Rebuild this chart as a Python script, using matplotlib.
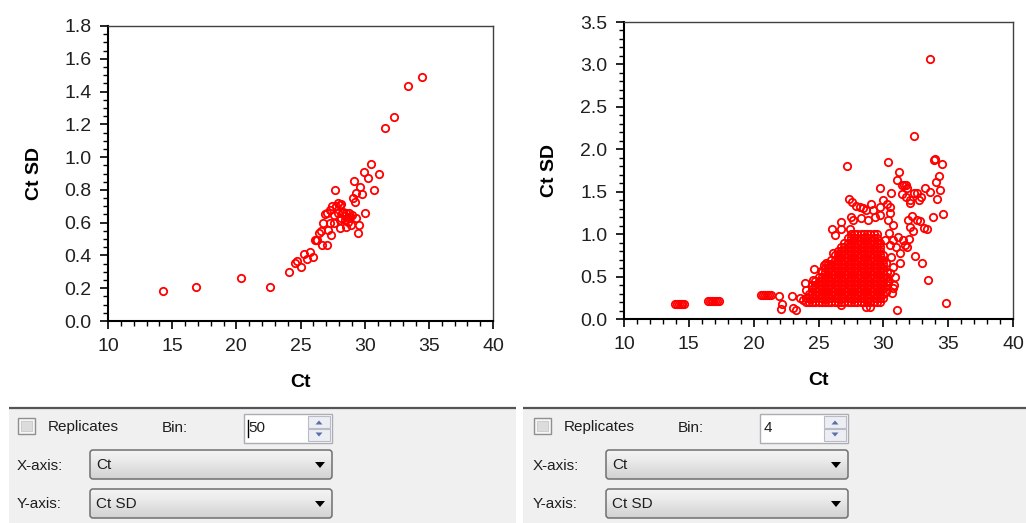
import numpy as np
import matplotlib
matplotlib.use('Agg')
import matplotlib.pyplot as plt
from matplotlib.patches import Rectangle, FancyBboxPatch, Polygon
from matplotlib.colors import LinearSegmentedColormap
from matplotlib.ticker import MultipleLocator

plt.rcParams['font.family'] = ['Liberation Sans', 'DejaVu Sans']

W, H = 1026, 523

# --- left chart (Bin 50) ---
ct_left = [14.26, 16.83, 20.35, 22.63, 24.10, 24.55, 24.73, 25.07, 25.30, 25.54,
           25.77, 25.98, 26.10, 26.22, 26.29, 26.44, 26.60, 26.70, 26.75, 26.89,
           27.07, 27.07, 27.14, 27.28, 27.40, 27.30, 27.45, 27.59, 27.58, 27.72,
           27.80, 27.92, 27.92, 28.05, 28.05, 28.05, 28.18, 28.18, 28.26, 28.31,
           28.44, 28.44, 28.57, 28.57, 28.70, 28.70, 28.78, 28.83, 28.96, 29.04,
           29.09, 29.14, 29.22, 29.35, 29.35, 29.48, 29.56, 29.67, 29.82, 29.94,
           30.06, 30.26, 30.52, 30.76, 31.09, 31.56, 32.26, 33.40, 34.47]
sd_left = [0.183, 0.209, 0.264, 0.209, 0.300, 0.356, 0.365, 0.327, 0.408, 0.380,
           0.418, 0.388, 0.494, 0.494, 0.494, 0.534, 0.550, 0.463, 0.600, 0.652,
           0.463, 0.656, 0.555, 0.600, 0.524, 0.680, 0.700, 0.595, 0.646, 0.800,
           0.700, 0.656, 0.717, 0.707, 0.565, 0.616, 0.626, 0.713, 0.656, 0.666,
           0.616, 0.640, 0.656, 0.575, 0.605, 0.626, 0.656, 0.636, 0.585, 0.646,
           0.748, 0.853, 0.727, 0.778, 0.626, 0.534, 0.585, 0.815, 0.774, 0.908,
           0.662, 0.874, 0.955, 0.800, 0.900, 1.178, 1.245, 1.434, 1.489]

# --- right chart (Bin 4) ---
low_ct = [13.95, 14.10, 14.25, 14.40, 14.50, 14.60,
          16.45, 16.60, 16.75, 16.90, 17.05, 17.20, 17.30,
          20.55, 20.70, 20.85, 21.00, 21.15, 21.30]
low_sd = [0.173, 0.173, 0.173, 0.173, 0.173, 0.173,
          0.209, 0.209, 0.209, 0.209, 0.209, 0.209, 0.209,
          0.283, 0.283, 0.283, 0.283, 0.283, 0.283]

# dense core of the cloud, one list of Ct values per Ct SD level
blob_sd_levels = [0.20, 0.25, 0.30, 0.35, 0.40, 0.45, 0.50, 0.55, 0.60,
                  0.65, 0.70, 0.75, 0.80, 0.85, 0.90, 0.95, 1.00]
blob_ct_rows = [
    [24.0, 24.25, 24.5, 24.75, 25.0, 25.25, 25.5, 25.75, 26.0, 26.25, 26.5, 26.75,
     27.0, 27.25, 27.5, 27.75, 28.0, 28.25, 28.5, 28.75, 29.0, 29.25, 29.5, 29.75],
    [24.0, 24.25, 24.5, 24.75, 25.0, 25.25, 25.5, 25.75, 26.0, 26.25, 26.5, 26.75,
     27.0, 27.25, 27.5, 27.75, 28.0, 28.25, 28.5, 28.75, 29.0, 29.25, 29.5, 29.75, 30.0],
    [24.25, 24.5, 24.75, 25.0, 25.25, 25.5, 25.75, 26.0, 26.25, 26.5, 26.75,
     27.0, 27.25, 27.5, 27.75, 28.0, 28.25, 28.5, 28.75, 29.0, 29.25, 29.5, 29.75, 30.0],
    [24.5, 24.75, 25.0, 25.25, 25.5, 25.75, 26.0, 26.25, 26.5, 26.75,
     27.0, 27.25, 27.5, 27.75, 28.0, 28.25, 28.5, 28.75, 29.0, 29.25, 29.5, 29.75, 30.0],
    [24.5, 24.75, 25.0, 25.25, 25.5, 25.75, 26.0, 26.25, 26.5, 26.75,
     27.0, 27.25, 27.5, 27.75, 28.0, 28.25, 28.5, 28.75, 29.0, 29.25, 29.5, 29.75, 30.0, 30.25],
    [24.75, 25.0, 25.25, 25.5, 25.75, 26.0, 26.25, 26.5, 26.75,
     27.0, 27.25, 27.5, 27.75, 28.0, 28.25, 28.5, 28.75, 29.0, 29.25, 29.5, 29.75, 30.0, 30.25],
    [25.0, 25.25, 25.5, 25.75, 26.0, 26.25, 26.5, 26.75,
     27.0, 27.25, 27.5, 27.75, 28.0, 28.25, 28.5, 28.75, 29.0, 29.25, 29.5, 29.75, 30.0, 30.25],
    [25.25, 25.5, 25.75, 26.0, 26.25, 26.5, 26.75,
     27.0, 27.25, 27.5, 27.75, 28.0, 28.25, 28.5, 28.75, 29.0, 29.25, 29.5, 29.75, 30.0, 30.25],
    [25.5, 25.75, 26.0, 26.25, 26.5, 26.75,
     27.0, 27.25, 27.5, 27.75, 28.0, 28.25, 28.5, 28.75, 29.0, 29.25, 29.5, 29.75, 30.0],
    [25.75, 26.0, 26.25, 26.5, 26.75,
     27.0, 27.25, 27.5, 27.75, 28.0, 28.25, 28.5, 28.75, 29.0, 29.25, 29.5, 29.75, 30.0],
    [26.0, 26.25, 26.5, 26.75,
     27.0, 27.25, 27.5, 27.75, 28.0, 28.25, 28.5, 28.75, 29.0, 29.25, 29.5, 29.75, 30.0],
    [26.25, 26.5, 26.75,
     27.0, 27.25, 27.5, 27.75, 28.0, 28.25, 28.5, 28.75, 29.0, 29.25, 29.5, 29.75, 30.0],
    [26.5, 26.75,
     27.0, 27.25, 27.5, 27.75, 28.0, 28.25, 28.5, 28.75, 29.0, 29.25, 29.5, 29.75],
    [26.75,
     27.0, 27.25, 27.5, 27.75, 28.0, 28.25, 28.5, 28.75, 29.0, 29.25, 29.5, 29.75],
    [27.0, 27.25, 27.5, 27.75, 28.0, 28.25, 28.5, 28.75, 29.0, 29.25, 29.5, 29.75],
    [27.25, 27.5, 27.75, 28.0, 28.25, 28.5, 28.75, 29.0, 29.25, 29.5],
    [27.5, 27.75, 28.0, 28.25, 28.5, 28.75, 29.0, 29.25, 29.5],
]

outlier_ct = [33.57, 32.34, 27.22, 30.33, 33.88, 33.98, 34.52, 31.18, 31.05, 34.32,
              34.04, 29.74, 30.57, 31.46, 31.60, 31.72, 31.83, 31.46, 31.72, 32.36,
              32.60, 32.93, 32.75, 33.20, 33.57, 34.40, 34.17, 32.03, 32.03, 27.35,
              27.61, 27.92, 28.17, 28.43, 28.69, 29.07, 29.20, 29.97, 30.28, 30.54,
              27.53, 27.66, 28.30, 28.82, 29.33, 29.72, 29.72, 30.49, 30.36, 27.40,
              30.75, 30.44, 34.60, 33.83, 32.21, 32.62, 32.85, 31.90, 32.03, 32.28,
              33.11, 33.37, 31.97, 31.82, 31.13, 32.41, 33.00, 31.26, 33.44, 34.86,
              31.05, 30.82, 30.69, 30.23, 26.04, 26.25, 26.76, 26.76, 26.12, 25.60,
              25.22, 24.58, 24.06, 23.80, 30.10, 30.50, 30.75, 31.00, 31.26, 31.50,
              31.65, 30.60, 30.23, 30.75, 30.50, 30.87, 30.36, 30.10, 30.75, 28.69,
              28.95, 26.76, 21.93, 22.16, 22.13, 22.93, 23.03, 23.29, 23.55, 23.96,
              24.63, 25.40]
outlier_sd = [3.063, 2.159, 1.805, 1.856, 1.876, 1.884, 1.825, 1.734, 1.640, 1.680,
              1.610, 1.538, 1.490, 1.577, 1.577, 1.577, 1.538, 1.475, 1.443, 1.482,
              1.490, 1.435, 1.404, 1.541, 1.502, 1.522, 1.416, 1.365, 1.404, 1.416,
              1.384, 1.333, 1.325, 1.305, 1.286, 1.357, 1.286, 1.404, 1.357, 1.325,
              1.207, 1.168, 1.190, 1.168, 1.207, 1.227, 1.325, 1.247, 1.168, 1.058,
              1.109, 1.010, 1.239, 1.200, 1.215, 1.168, 1.160, 1.168, 1.089, 1.042,
              1.074, 1.058, 0.940, 0.853, 0.963, 0.743, 0.657, 0.657, 0.460, 0.193,
              0.106, 0.400, 0.303, 0.322, 1.058, 0.990, 1.148, 1.062, 0.775, 0.657,
              0.560, 0.460, 0.342, 0.224, 0.930, 0.870, 0.930, 0.850, 0.775, 0.930,
              0.870, 0.735, 0.657, 0.617, 0.540, 0.500, 0.440, 0.380, 0.360, 0.145,
              0.145, 0.165, 0.271, 0.177, 0.118, 0.271, 0.126, 0.106, 0.244, 0.420,
              0.586, 0.637]

bin_values = ['50', '4']
x_choice = 'Ct'
y_choice = 'Ct SD'


def frac(x0, y0, x1, y1):
    # pixel box (top-left origin) -> figure fraction rect
    return [x0 / W, 1 - y1 / H, (x1 - x0) / W, (y1 - y0) / H]


def style_axes(ax, ymax, ymajor, yminor, ylabel_x, xlabel_y):
    ax.set_xlim(10, 40)
    ax.set_ylim(0, ymax)
    ax.xaxis.set_major_locator(MultipleLocator(5))
    ax.xaxis.set_minor_locator(MultipleLocator(1))
    ax.yaxis.set_major_locator(MultipleLocator(ymajor))
    ax.yaxis.set_minor_locator(MultipleLocator(yminor))
    ax.yaxis.set_major_formatter(matplotlib.ticker.FormatStrFormatter('%.1f'))
    ax.xaxis.set_major_formatter(matplotlib.ticker.FormatStrFormatter('%d'))
    for s in ['left', 'bottom']:
        ax.spines[s].set_linewidth(1.5)
        ax.spines[s].set_color('black')
    for s in ['top', 'right']:
        ax.spines[s].set_linewidth(1.0)
        ax.spines[s].set_color('#404040')
    ax.tick_params(which='major', direction='out', length=6, width=1.2,
                   labelsize=14, pad=6, labelcolor='#202020')
    ax.tick_params(which='minor', direction='out', length=3.5, width=1.0)
    ax.set_xlabel('Ct', fontsize=14, fontweight='bold')
    ax.set_ylabel('Ct SD', fontsize=14, fontweight='bold')
    ax.xaxis.set_label_coords(0.5, xlabel_y)
    ax.yaxis.set_label_coords(ylabel_x, 0.5)


fig = plt.figure(figsize=(W / 100, H / 100), dpi=100)

# UI layer in pixel coordinates
ui = fig.add_axes([0, 0, 1, 1])
ui.set_xlim(0, W)
ui.set_ylim(H, 0)
ui.axis('off')

combo_cmap = LinearSegmentedColormap.from_list(
    'combo', ['#f4f4f4', '#ececec', '#dedede', '#d2d2d2'])
grad = np.linspace(0, 1, 64).reshape(-1, 1)


def draw_panel(px0, px1, dx, bin_text, caret):
    ui.add_patch(Rectangle((px0, 409), px1 - px0, H - 409, fc='#f0f0f0', ec='none'))
    ui.plot([px0, px1], [408, 408], color='#555555', lw=1.6, solid_capstyle='butt')
    # checkbox
    ui.add_patch(Rectangle((dx + 18, 418), 17, 16, fc='#f6f6f6', ec='#8e8f8f', lw=1))
    ui.add_patch(Rectangle((dx + 21, 421), 11, 10, fc='#dcdcdc', ec='#c8c8c8', lw=0.6))
    txt = dict(fontsize=11, color='#1e1e1e', va='center', ha='left')
    ui.text(dx + 48, 427, 'Replicates', **txt)
    ui.text(dx + 162, 428, 'Bin:', **txt)
    # spin box
    ui.add_patch(Rectangle((dx + 244, 414), 88, 29, fc='white', ec='#abadb3', lw=1))
    ui.add_patch(Rectangle((dx + 308, 416), 22, 12, fc='#eceef3', ec='#b8bcc6', lw=0.8))
    ui.add_patch(Rectangle((dx + 308, 429), 22, 12, fc='#eceef3', ec='#b8bcc6', lw=0.8))
    ui.add_patch(Polygon([[dx + 315.5, 424.5], [dx + 322.5, 424.5], [dx + 319, 420.5]],
                         fc='#5a6fa8', ec='none'))
    ui.add_patch(Polygon([[dx + 315.5, 432.5], [dx + 322.5, 432.5], [dx + 319, 436.5]],
                         fc='#5a6fa8', ec='none'))
    ui.text(dx + 248, 428.5, bin_text, **txt)
    if caret:
        ui.plot([dx + 247.5, dx + 247.5], [420, 437], color='black', lw=1)
    # combo boxes
    for y0, label, choice in [(450, 'X-axis:', x_choice), (489, 'Y-axis:', y_choice)]:
        box = FancyBboxPatch((dx + 90, y0), 242, 29,
                             boxstyle='round,pad=0,rounding_size=3',
                             fc='none', ec='#707070', lw=1.1, zorder=3)
        ui.add_patch(box)
        im = ui.imshow(grad, extent=(dx + 90, dx + 332, y0 + 29, y0), cmap=combo_cmap,
                       aspect='auto', origin='upper', zorder=2)
        im.set_clip_path(box)
        ui.text(dx + 17, y0 + 15.5, label, **txt)
        ui.text(dx + 96, y0 + 15, choice, zorder=4, **txt)
        ui.add_patch(Polygon([[dx + 315, y0 + 12], [dx + 325, y0 + 12], [dx + 320, y0 + 18]],
                             fc='black', ec='none', zorder=4))


draw_panel(9, 516, 0, bin_values[0], True)
draw_panel(523, W, 516, bin_values[1], False)
ui.set_xlim(0, W)
ui.set_ylim(H, 0)

marker = dict(ls='none', marker='o', ms=5.3, mfc='none', mec='#ff0000', mew=1.3)

ax1 = fig.add_axes(frac(108, 26, 493, 321))
ax1.plot(ct_left, sd_left, **marker)
style_axes(ax1, 1.8, 0.2, 0.05, -0.169, -0.18)

blob_ct = [x for row in blob_ct_rows for x in row]
blob_sd = [lvl for lvl, row in zip(blob_sd_levels, blob_ct_rows) for _ in row]

ax2 = fig.add_axes(frac(624, 22, 1013, 319))
ax2.plot(low_ct, low_sd, **marker)
ax2.plot(blob_ct, blob_sd, **marker)
ax2.plot(outlier_ct, outlier_sd, **marker)
style_axes(ax2, 3.5, 0.5, 0.1, -0.17, -0.178)

fig.savefig('out.png', dpi=100)
